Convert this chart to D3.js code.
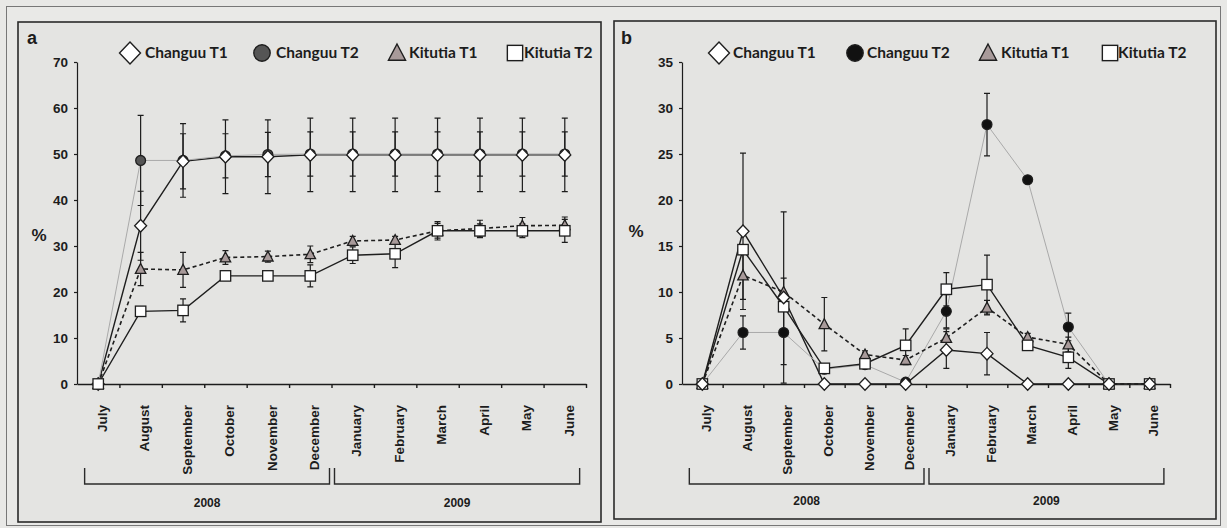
<!DOCTYPE html>
<html><head><meta charset="utf-8">
<script src="https://cdn.jsdelivr.net/npm/d3@7"></script>
<style>body{margin:0;background:#e8e8e6;} svg{display:block}</style>
</head><body><svg id="c" width="1227" height="528"></svg>
<script>
// ---------- data ----------
const months = ["July","August","September","October","November","December","January","February","March","April","May","June"];
const years = ["2008","2009"];
const seriesNames = ["Changuu T1","Changuu T2","Kitutia T1","Kitutia T2"];
const ticksA = [0,10,20,30,40,50,60,70];
const ticksB = [0,5,10,15,20,25,30,35];

// panel a
const aChanguuT1    = [0,34.4,48.4,49.4,49.4,49.8,49.8,49.8,49.8,49.8,49.8,49.8];
const aChanguuT1Err = [0,7.5,6,8,8,8,8,8,8,8,8,8];
const aChanguuT2    = [0,48.6,48.6,49.6,49.9,50,50,50,50,50,50,50];
const aChanguuT2Err = [0,9.8,8,4.8,4.8,4.8,4.8,4.8,4.8,4.8,4.8,4.8];
const aKitutiaT1    = [0,25,24.8,27.5,27.7,28.2,31.1,31.3,33.3,33.8,34.4,34.5];
const aKitutiaT1Err = [0,3.6,3.8,1.5,1.2,1.8,1,0.8,1.6,1.8,1.8,1.8];
const aKitutiaT2    = [0,15.8,16,23.5,23.5,23.5,28,28.3,33.3,33.3,33.3,33.3];
const aKitutiaT2Err = [0,0,2.5,0,0,2.4,1.8,3,2,1.5,1.5,2.5];

// panel b
const bChanguuT1    = [0,16.6,9.4,0,0,0,3.7,3.3,0,0,0,0];
const bChanguuT1Err = [0,8.5,9.3,0,0,0,2.0,2.3,0,0,0,0];
const bChanguuT2    = [0,5.6,5.6,1.6,2.1,0.2,7.9,28.2,22.2,6.2,0,0];
const bChanguuT2Err = [0,1.8,3.5,0,0,0,1.8,3.4,0,1.5,0,0];
const bKitutiaT1    = [0,11.8,10.0,6.5,3.2,2.6,5.0,8.3,5.1,4.3,0,0];
const bKitutiaT1Err = [0,2.6,1.5,2.9,0.4,0.5,1.0,0.8,0.4,0.8,0,0];
const bKitutiaT2    = [0,14.6,8.4,1.7,2.2,4.2,10.3,10.8,4.2,2.9,0,0];
const bKitutiaT2Err = [0,0,0,0,0,1.8,1.8,3.2,0,1.2,0,0];

// ---------- drawing ----------
const svg = d3.select("#c");
const INK = "#1c1c1c";
const FONT = "'Liberation Sans', Arial, sans-serif";
const LFONT = "Lato, 'Open Sans', sans-serif";

svg.append("rect").attr("x",6.5).attr("y",6.5).attr("width",1214).attr("height",519)
  .attr("fill","#e9e9e7").attr("stroke","#777").attr("stroke-width",1);

const shapes = {
  diamond: (g, s) => g.append("path").attr("d", `M0,${-s*1.05}L${s},0L0,${s*1.05}L${-s},0Z`),
  circle:  (g, s) => g.append("circle").attr("r", s*0.82),
  triangle:(g, s) => g.append("path").attr("d", `M0,${-s*1.0}L${s*0.95},${s*0.8}L${-s*0.95},${s*0.8}Z`),
  square:  (g, s) => g.append("rect").attr("x",-s*0.9).attr("y",-s*0.9).attr("width",s*1.8).attr("height",s*1.8)
};

function drawPanel(cfg) {
  const g = svg.append("g");
  g.append("rect").attr("x",cfg.frame[0]).attr("y",cfg.frame[1])
    .attr("width",cfg.frame[2]-cfg.frame[0]).attr("height",cfg.frame[3]-cfg.frame[1])
    .attr("fill","#e4e4e2").attr("stroke","#2a2a2a").attr("stroke-width",1.6);

  const x = d3.scaleBand().domain(months).range(cfg.xRange);
  const cx = m => x(m) + x.bandwidth()/2;
  const xb = d3.scaleLinear().domain([0, months.length]).range(cfg.xRange);
  const y = d3.scaleLinear().domain([0, cfg.yMax]).range([384, 62]);

  // y axis
  const yA = g.append("g").attr("transform",`translate(${cfg.xRange[0]},0)`)
    .call(d3.axisLeft(y).tickValues(cfg.ticks).tickSize(3).tickSizeOuter(0).tickPadding(6));
  yA.selectAll("path,line").attr("stroke",INK).attr("stroke-width",1.2);
  yA.selectAll("text").attr("fill",INK).style("font-family",FONT).style("font-weight","bold").style("font-size","13.5px");

  // x axis: ticks between categories
  const xA = g.append("g").attr("transform",`translate(0,384)`)
    .call(d3.axisBottom(xb).tickValues(d3.range(1, months.length+1)).tickSize(4).tickSizeOuter(0).tickFormat(""));
  xA.selectAll("path,line").attr("stroke",INK).attr("stroke-width",1.4);

  // month labels
  const mA = g.append("g").attr("transform",`translate(0,384)`)
    .call(d3.axisBottom(x).tickSize(0).tickSizeOuter(0));
  mA.select(".domain").remove();
  mA.selectAll("text").attr("transform","rotate(-90)").attr("x",-21).attr("y",4).attr("dy","0.35em")
    .style("text-anchor","end").attr("fill",INK)
    .style("font-family",FONT).style("font-weight","bold").style("font-size","13.5px");

  // year brackets
  const step = x.step();
  const br = [
    [cx(months[0]) - 0.32*step, cx(months[5]) + 0.5*step - 2, years[0]],
    [cx(months[6]) - 0.5*step + 3, cx(months[11]) + 0.35*step, years[1]]
  ];
  br.forEach(b => {
    g.append("path").attr("d",`M${b[0]},468V484H${b[1]}V468`).attr("fill","none")
      .attr("stroke","#2a2a2a").attr("stroke-width",1.4);
    g.append("text").attr("x",(b[0]+b[1])/2).attr("y",cfg.yearY).attr("text-anchor","middle")
      .attr("fill",INK).style("font-family",FONT).style("font-weight","bold").style("font-size","12px").text(b[2]);
  });

  // panel letter and % label
  g.append("text").attr("x",cfg.letter[0]).attr("y",cfg.letter[1]).text(cfg.letterText)
    .attr("fill",INK).style("font-family",FONT).style("font-weight","bold").style("font-size","18px");
  g.append("text").attr("x",cfg.pct[0]).attr("y",cfg.pct[1]).text("%").attr("text-anchor","middle")
    .attr("fill",INK).style("font-family",FONT).style("font-weight","bold").style("font-size","17px");

  // series
  const line = d3.line().defined(d => d.v != null).x(d => cx(d.m)).y(d => y(d.v));
  const toPts = (vals, errs) => months.map((m,i) => ({m, v: vals[i], e: errs[i]}));
  const S = cfg.series.map(s => Object.assign({}, s, {pts: toPts(s.vals, s.errs)}));

  // lines
  S.forEach(s => {
    g.append("path").datum(s.pts).attr("d", line).attr("fill","none")
      .attr("stroke", s.lineColor).attr("stroke-width", s.lineWidth)
      .attr("stroke-dasharray", s.dash || null);
  });
  // error bars
  S.forEach(s => {
    s.pts.filter(d => d.v != null && d.e > 0).forEach(d => {
      const X = cx(d.m), y1 = y(d.v + d.e), y0 = y(Math.max(0, d.v - d.e));
      g.append("path").attr("d",`M${X},${y0}V${y1}M${X-3},${y1}H${X+3}` + (d.v - d.e > 0 ? `M${X-3},${y0}H${X+3}` : ""))
        .attr("stroke", INK).attr("stroke-width",1.2).attr("fill","none");
    });
  });
  // markers in draw order
  cfg.order.forEach(idx => {
    const s = S[idx];
    s.pts.filter(d => d.v != null).forEach(d => {
      const mg = g.append("g").attr("transform",`translate(${cx(d.m)},${y(d.v)})`);
      shapes[s.shape](mg, s.size).attr("fill", s.fill).attr("stroke", "#1e1e1e").attr("stroke-width",1.3);
    });
  });

  // legend
  cfg.legend.forEach((l, i) => {
    const s = S[i];
    const mg = g.append("g").attr("transform",`translate(${l[0]},53)`);
    shapes[s.shape](mg, s.legendSize).attr("fill", s.fill).attr("stroke","#1e1e1e").attr("stroke-width",1.4);
    g.append("text").attr("x",l[1]).attr("y",53).attr("dy","0.35em").text(seriesNames[i])
      .attr("fill",INK).style("font-family",LFONT).style("font-weight","bold").style("font-size","15.5px");
  });
}

function seriesSet(c1, c1e, c2, c2e, k1, k1e, k2, k2e, circleFill) {
  return [
    {vals:c1, errs:c1e, shape:"diamond", size:6, legendSize:10.5, fill:"#ffffff", lineColor:"#1e1e1e", lineWidth:1.4},
    {vals:c2, errs:c2e, shape:"circle", size:6, legendSize:10, fill:circleFill, lineColor:"#a9a9a9", lineWidth:1},
    {vals:k1, errs:k1e, shape:"triangle", size:5.5, legendSize:9, fill:"#a89a9a", lineColor:"#1e1e1e", lineWidth:1.6, dash:"4,3"},
    {vals:k2, errs:k2e, shape:"square", size:5.8, legendSize:8.5, fill:"#ffffff", lineColor:"#1e1e1e", lineWidth:1.4}
  ];
}

drawPanel({
  frame:[18,22,601,522], xRange:[77,586], yMax:70, ticks:ticksA,
  letter:[27,44], letterText:"a", pct:[39,241], yearY:507,
  series: seriesSet(aChanguuT1,aChanguuT1Err,aChanguuT2,aChanguuT2Err,aKitutiaT1,aKitutiaT1Err,aKitutiaT2,aKitutiaT2Err,"#555555"),
  order:[2,1,0,3],
  legend:[[130,145],[262,276],[397,409],[515,524]]
});

drawPanel({
  frame:[614,21,1216,519], xRange:[682,1170], yMax:35, ticks:ticksB,
  letter:[621,44], letterText:"b", pct:[636,237], yearY:505,
  series: seriesSet(bChanguuT1,bChanguuT1Err,bChanguuT2,bChanguuT2Err,bKitutiaT1,bKitutiaT1Err,bKitutiaT2,bKitutiaT2Err,"#111111"),
  order:[1,2,3,0],
  legend:[[719,733],[855,867],[988,1001],[1110,1118]]
});
</script>
</body></html>
